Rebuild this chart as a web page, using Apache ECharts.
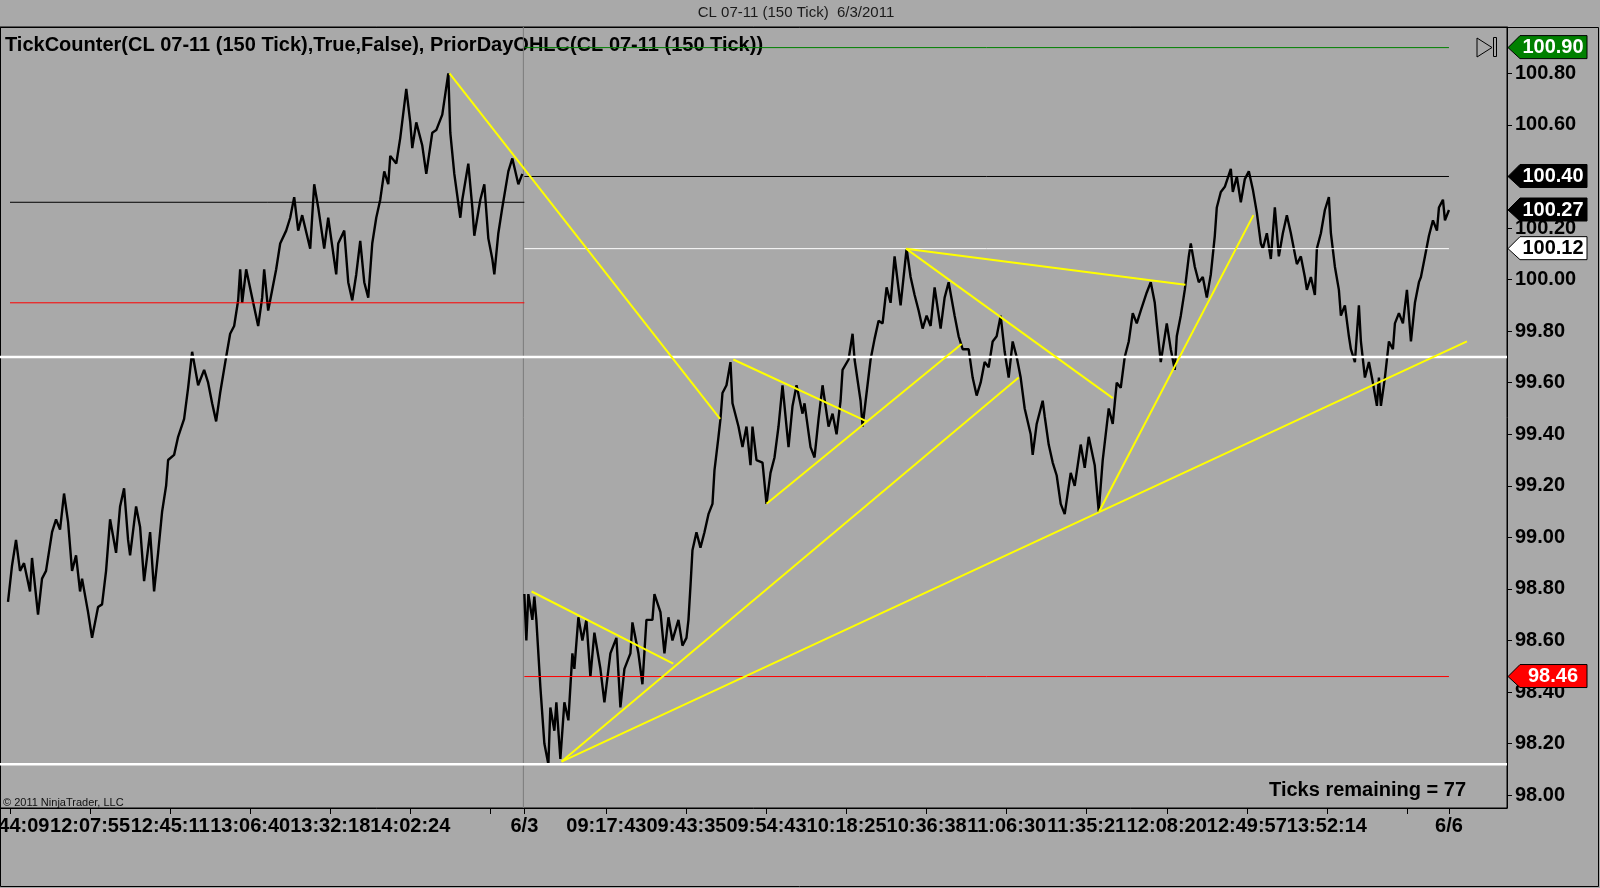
<!DOCTYPE html>
<html>
<head>
<meta charset="utf-8">
<title>CL 07-11 (150 Tick)</title>
<script src="https://cdn.jsdelivr.net/npm/echarts@6.0.0/dist/echarts.min.js"></script>
<style>
  html, body { margin: 0; padding: 0; background: #a9a9a9; }
  #chart { width: 1600px; height: 888px; }
</style>
</head>
<body>
<div id="chart"></div>
<script>
// bar index (150-tick bars) and closing price, session of 6/2
const s1Bar = [4,6,8,10,12,15,16,19,21,23,26,28,30,32,34,36,38,40,41,44,46,49,51,53,55,58,60,62,64,65,68,70,72,75,77,79,81,83,84,87,89,92,94,96,99,102,104,106,108,110,113,115,117,119,120,121,123,126,129,131,132,134,136,138,140,143,145,147,149,151,155,157,159,162,164,168,169,172,174,176,178,180,182,184,186,188,190,192,194,195,198,200,203,205,206,208,211,213,216,218,221,224,225,227,230,231,234,236,237,240,242,244,246,247,249,251,254,256,259,261];
const s1Price = [98.75,98.89,98.99,98.87,98.90,98.79,98.92,98.70,98.84,98.87,99.02,99.07,99.03,99.17,99.06,98.87,98.93,98.79,98.84,98.71,98.61,98.73,98.74,98.87,99.07,98.94,99.12,99.19,98.99,98.93,99.12,99.04,98.83,99.02,98.79,98.94,99.10,99.20,99.30,99.32,99.39,99.46,99.58,99.72,99.59,99.65,99.60,99.52,99.45,99.56,99.70,99.79,99.82,99.92,100.04,99.91,100.04,99.93,99.82,99.93,100.04,99.88,99.96,100.04,100.14,100.19,100.24,100.32,100.19,100.25,100.12,100.37,100.28,100.12,100.24,100.02,100.14,100.19,99.99,99.92,100.02,100.15,99.99,99.93,100.14,100.24,100.31,100.42,100.37,100.48,100.45,100.55,100.74,100.61,100.51,100.61,100.52,100.41,100.57,100.58,100.64,100.80,100.57,100.41,100.24,100.31,100.45,100.28,100.17,100.31,100.37,100.16,100.08,100.02,100.18,100.28,100.42,100.47,100.37,100.41];

// session of 6/3
const s2Bar = [262,263,264,266,267,268,270,272,274,275,277,278,280,282,284,286,287,289,291,293,295,297,300,302,305,308,310,312,315,316,319,321,323,326,327,330,332,334,336,339,341,343,344,345,346,348,350,352,354,356,357,359,360,361,363,365,366,369,371,373,375,376,378,381,383,385,387,389,391,394,396,398,401,402,405,407,409,411,414,416,418,420,421,424,426,427,430,431,433,435,437,439,
  441,443,445,447,450,453,455,457,459,461,463,465,467,470,472,474,477,479,481,484,486,488,490,492,494,496,498,500,502,504,506,508,510,512,515,516,518,521,522,524,526,528,530,532,535,537,540,542,544,547,549,551,554,556,558,560,562,564,566,568,570,573,575,577,578,580,583,585,587,588,590,592,594,595,597,599,601,603,605,607,608,610,612,615,616,618,620,622,624,626,628,630,631,633,635,637,639,641,643,645,648,650,652,653,655,657,658,660,662,664,665,667,669,670,672,674,675,677,679,680,682,684,686,688,689,690,692,694,696,697,699,701,703,705,707,709,710,712,714,716,718,719,721,722,724];
const s2Price = [98.78,98.60,98.78,98.68,98.77,98.68,98.42,98.20,98.12,98.34,98.25,98.36,98.14,98.36,98.29,98.55,98.49,98.69,98.60,98.68,98.46,98.63,98.49,98.36,98.55,98.61,98.34,98.49,98.55,98.67,98.55,98.43,98.68,98.68,98.78,98.71,98.55,98.69,98.60,98.68,98.58,98.61,98.68,98.81,98.95,99.02,98.96,99.02,99.09,99.13,99.26,99.39,99.46,99.56,99.59,99.68,99.52,99.43,99.35,99.43,99.28,99.43,99.30,99.29,99.13,99.25,99.31,99.43,99.59,99.35,99.51,99.59,99.48,99.52,99.35,99.31,99.46,99.59,99.43,99.48,99.40,99.53,99.65,99.69,99.79,99.69,99.53,99.43,99.56,99.69,99.77,99.84,
  99.83,99.97,99.91,100.09,99.90,100.12,100.01,99.94,99.88,99.81,99.86,99.82,99.97,99.81,99.93,99.99,99.86,99.78,99.73,99.73,99.62,99.55,99.60,99.68,99.66,99.76,99.78,99.86,99.72,99.62,99.76,99.70,99.62,99.50,99.40,99.32,99.44,99.53,99.47,99.36,99.29,99.24,99.13,99.09,99.25,99.20,99.36,99.27,99.39,99.28,99.10,99.30,99.50,99.44,99.60,99.58,99.70,99.76,99.87,99.83,99.88,99.95,99.99,99.91,99.83,99.68,99.83,99.73,99.65,99.78,99.86,99.96,100.09,100.14,100.05,99.99,100.01,99.93,100.02,100.17,100.28,100.34,100.36,100.43,100.34,100.40,100.30,100.39,100.42,100.35,100.26,100.14,100.12,100.18,100.08,100.28,100.09,100.18,100.25,100.18,100.06,100.09,100.01,99.96,100.01,99.94,100.12,100.18,100.27,100.32,100.18,100.05,99.96,99.86,99.90,99.78,99.73,99.68,99.90,99.76,99.62,99.68,99.60,99.51,99.62,99.51,99.62,99.76,99.73,99.83,99.87,99.83,99.96,99.76,99.91,99.99,100.01,100.09,100.17,100.23,100.19,100.28,100.31,100.23,100.27];

// PriorDayOHLC levels and the two hand drawn horizontals
const levelPrice = [100.90, 100.40, 100.12, 98.46, 100.30, 99.91, 99.70, 98.12];
const levelFrom  = [262, 262, 262, 262, 5, 5, 0, 0];
const levelTo    = [724, 724, 724, 724, 262, 262, 753, 753];
const levelColor = ['#008000', '#000000', '#ffffff', '#ff0000', '#000000', '#ff0000', '#ffffff', '#ffffff'];
const levelWidth = [1, 1, 1, 1, 1, 1, 2.5, 2.5];

// yellow trend lines (bar, price) -> (bar, price)
const trendStartBar   = [224.6, 265.6, 280.6, 280.6, 549.2, 383, 366.4, 452.7, 452.7];
const trendStartPrice = [100.80, 98.79, 98.13, 98.13, 99.10, 99.13, 99.69, 100.12, 100.12];
const trendEndBar     = [359.8, 336.4, 509, 733, 626.3, 480.5, 433.1, 556, 592.3];
const trendEndPrice   = [99.46, 98.51, 99.62, 99.76, 100.25, 99.75, 99.45, 99.54, 99.98];

// right-axis price markers
const tagPrice = [100.90, 100.40, 100.27, 100.12, 98.46];
const tagFill  = ['#008000', '#000000', '#000000', '#ffffff', '#ff0000'];
const tagInk   = ['#ffffff', '#ffffff', '#ffffff', '#000000', '#ffffff'];

const tickBar = [5,45,85,125,165,205,245,262,303,343,383,423,463,503,543,583,623,663,703,724];
const tickLabel = ['11:44:09','12:07:55','12:45:11','13:06:40','13:32:18','14:02:24','','6/3','09:17:43','09:43:35','09:54:43','10:18:25','10:36:38','11:06:30','11:35:21','12:08:20','12:49:57','13:52:14','','6/6'];
const yTicks = [98.0, 98.2, 98.4, 98.6, 98.8, 99.0, 99.2, 99.4, 99.6, 99.8, 100.0, 100.2, 100.4, 100.6, 100.8];
const sessionBreak = 261.5;

const FONT = "'Liberation Sans', Arial, sans-serif";

const chart = echarts.init(document.getElementById('chart'));

const series = [];
series.push({
  type: 'line', name: '6/2', data: s1Bar.map((b, i) => [b, s1Price[i]]),
  showSymbol: false, lineStyle: { color: '#000', width: 2.4 }, z: 2, silent: true
});
series.push({
  type: 'line', name: '6/3', data: s2Bar.map((b, i) => [b, s2Price[i]]),
  showSymbol: false, lineStyle: { color: '#000', width: 2.4 }, z: 2, silent: true
});
series.push({
  type: 'line', data: [[sessionBreak, 97.95], [sessionBreak, 100.98]],
  showSymbol: false, lineStyle: { color: '#7a7a7a', width: 1 }, z: 1, silent: true
});
levelPrice.forEach((p, i) => {
  series.push({
    type: 'line', data: [[levelFrom[i], p], [levelTo[i], p]],
    showSymbol: false, lineStyle: { color: levelColor[i], width: levelWidth[i] }, z: 3, silent: true
  });
});
trendStartBar.forEach((b, i) => {
  series.push({
    type: 'line', data: [[b, trendStartPrice[i]], [trendEndBar[i], trendEndPrice[i]]],
    showSymbol: false, lineStyle: { color: '#ffff00', width: 2 }, z: 4, silent: true
  });
});
series.push({
  type: 'custom', clip: false, z: 6, silent: true,
  data: tagPrice.map(p => [0, p]),
  renderItem: function (params, api) {
    const i = params.dataIndex;
    const y = api.coord([0, api.value(1)])[1];
    const x0 = params.coordSys.x + params.coordSys.width;
    return {
      type: 'group',
      children: [{
        type: 'polygon',
        shape: { points: [[x0 + 1, y], [x0 + 13, y - 12], [x0 + 80, y - 12], [x0 + 80, y + 11], [x0 + 13, y + 11]] },
        style: { fill: tagFill[i], stroke: '#000', lineWidth: 1 }
      }, {
        type: 'text',
        style: {
          x: x0 + 46, y: y, text: api.value(1).toFixed(2), fill: tagInk[i],
          font: 'bold 20px ' + FONT, align: 'center', verticalAlign: 'middle',
          textAlign: 'center', textVerticalAlign: 'middle'
        }
      }]
    };
  }
});

chart.setOption({
  animation: false,
  backgroundColor: '#a9a9a9',
  grid: {
    left: 0, right: 93, top: 27, bottom: 80,
    containLabel: false, outerBoundsMode: 'none',
    show: true, borderColor: '#000', borderWidth: 1
  },
  xAxis: {
    type: 'value', min: 0, max: 753,
    splitLine: { show: false },
    axisLine: { onZero: false, lineStyle: { color: '#000' } },
    axisTick: { customValues: tickBar, length: 6, lineStyle: { color: '#000' } },
    axisLabel: {
      customValues: tickBar.filter((b, i) => tickLabel[i] !== ''),
      formatter: v => tickLabel[tickBar.indexOf(v)],
      color: '#000', fontWeight: 'bold', fontSize: 20, fontFamily: FONT, margin: 8
    }
  },
  yAxis: {
    type: 'value', position: 'right', min: 97.95, max: 100.98,
    splitLine: { show: false },
    axisLine: { show: true, onZero: false, lineStyle: { color: '#000' } },
    axisTick: { show: true, customValues: yTicks, length: 5, lineStyle: { color: '#000' } },
    axisLabel: {
      customValues: yTicks, formatter: v => v.toFixed(2),
      color: '#000', fontWeight: 'bold', fontSize: 20, fontFamily: FONT, margin: 8
    }
  },
  graphic: [
    { type: 'rect', shape: { x: 0.5, y: 27.5, width: 1598, height: 859 }, style: { fill: 'none', stroke: '#000', lineWidth: 1 }, silent: true },
    { type: 'text', x: 796, y: 13, style: { text: 'CL 07-11 (150 Tick)  6/3/2011', fill: '#1a1a1a', font: '15px ' + FONT, textAlign: 'center', textVerticalAlign: 'middle' } },
    { type: 'text', x: 5, y: 45, style: { text: 'TickCounter(CL 07-11 (150 Tick),True,False), PriorDayOHLC(CL 07-11 (150 Tick))', fill: '#000', font: 'bold 20px ' + FONT, textVerticalAlign: 'middle' } },
    { type: 'text', x: 1466, y: 790, style: { text: 'Ticks remaining = 77', fill: '#000', font: 'bold 20px ' + FONT, textAlign: 'right', textVerticalAlign: 'middle' } },
    { type: 'text', x: 3, y: 803, style: { text: '\u00a9 2011 NinjaTrader, LLC', fill: '#111', font: '11px ' + FONT, textVerticalAlign: 'middle' } },
    { type: 'polygon', shape: { points: [[1477, 38], [1477, 57], [1492, 47.5]] }, style: { fill: 'none', stroke: '#000', lineWidth: 1 } },
    { type: 'rect', shape: { x: 1493.5, y: 37.5, width: 3, height: 19 }, style: { fill: 'none', stroke: '#000', lineWidth: 1 } }
  ],
  series: series
});
</script>
</body>
</html>
